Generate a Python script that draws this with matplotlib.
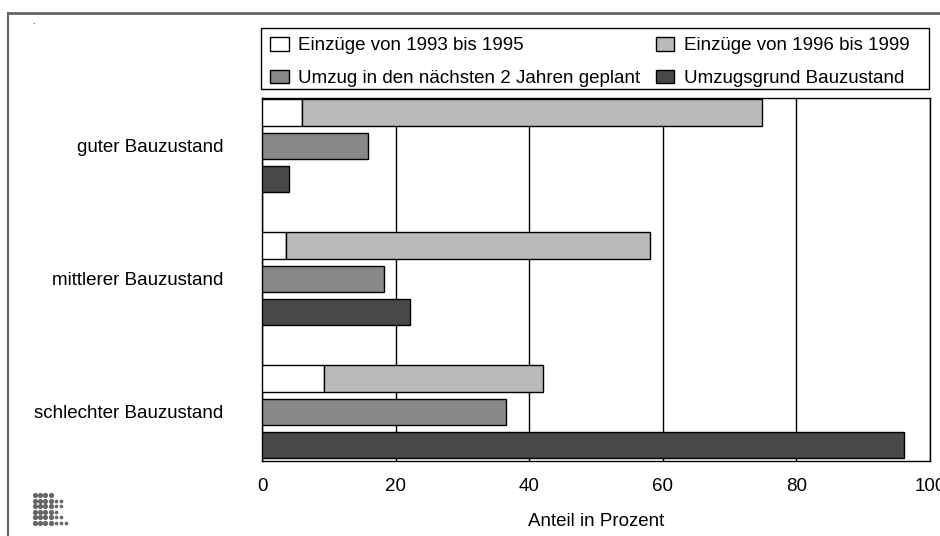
import matplotlib.pyplot as plt
import numpy as np
from matplotlib.lines import Line2D
from matplotlib.patches import Rectangle

plt.rcParams['font.family'] = ['Liberation Sans', 'DejaVu Sans']

# data (Anteil in Prozent)
categories = ["guter Bauzustand", "mittlerer Bauzustand", "schlechter Bauzustand"]
einzug_93_95 = [6.0, 3.6, 9.3]
einzug_96_99 = [68.8, 54.5, 32.7]   # stacked on top of 1993-1995
umzug_geplant = [15.9, 18.3, 36.5]
umzugsgrund = [4.0, 22.1, 96.1]
xticks = [0, 20, 40, 60, 80, 100]

FS = 13.5
W, H = 940, 536
fig = plt.figure(figsize=(W / 100, H / 100), dpi=100)
ax = fig.add_axes([262 / W, 1 - 461 / H, (930 - 262) / W, (461 - 98) / H])

y = np.arange(len(categories))
h = 0.2
kw = dict(height=h, edgecolor="black", linewidth=1.0, zorder=3)
b1 = ax.barh(y - 0.25, einzug_93_95, color="white", **kw)
b2 = ax.barh(y - 0.25, einzug_96_99, left=einzug_93_95, color="#bababa", **kw)
b3 = ax.barh(y, umzug_geplant, color="#888888", **kw)
b4 = ax.barh(y + 0.25, umzugsgrund, color="#484848", **kw)

ax.set_xlim(0, 100)
ax.set_ylim(2.37, -0.36)
ax.set_xticks(xticks)
ax.set_yticks(y)
ax.set_yticklabels(categories, fontsize=FS)
ax.tick_params(axis="x", labelsize=FS, length=0, pad=12)
ax.tick_params(axis="y", length=0, pad=28)
ax.xaxis.grid(True, color="black", linewidth=1.0, zorder=0)
ax.set_axisbelow(True)
for s in ax.spines.values():
    s.set_color("black")
    s.set_linewidth(1.0)
ax.set_xlabel("Anteil in Prozent", fontsize=FS, labelpad=13)

# legend (frame drawn separately so it spans the plot width)
fig.add_artist(Rectangle((261 / W, 1 - 89 / H), (929 - 261) / W, 61 / H,
                         transform=fig.transFigure, facecolor="white",
                         edgecolor="black", linewidth=1.0))
fig.legend([b1, b3, b2, b4],
           ["Einzüge von 1993 bis 1995", "Umzug in den nächsten 2 Jahren geplant",
            "Einzüge von 1996 bis 1999", "Umzugsgrund Bauzustand"],
           ncol=2, loc="upper left", bbox_to_anchor=(261 / W, 1 - 28 / H),
           borderaxespad=0, frameon=False, fontsize=FS,
           handlelength=1.0, handleheight=0.7, handletextpad=0.5,
           labelspacing=0.82, columnspacing=0.8, borderpad=0.5)

# outer frame
fig.add_artist(Line2D([8 / W, 8 / W], [0, 1 - 13 / H], transform=fig.transFigure,
                      color="#666666", linewidth=1.5))
fig.add_artist(Line2D([8 / W, 1], [1 - 13 / H, 1 - 13 / H], transform=fig.transFigure,
                      color="#666666", linewidth=2))
fig.text(32 / W, 1 - 24 / H, ".", fontsize=7)

# dotted logo bottom left
row_counts = [4, 6, 6, 5, 6, 7]
for r, n in enumerate(row_counts):
    for c in range(n):
        size = 14 if c < 4 else 7
        fig.add_artist(Line2D([(35 + c * 5.2) / W], [1 - (495 + r * 5.6) / H],
                              transform=fig.transFigure, marker="o", linestyle="none",
                              markersize=np.sqrt(size), color="#666666",
                              markeredgewidth=0))

fig.savefig("out.png", dpi=100)
